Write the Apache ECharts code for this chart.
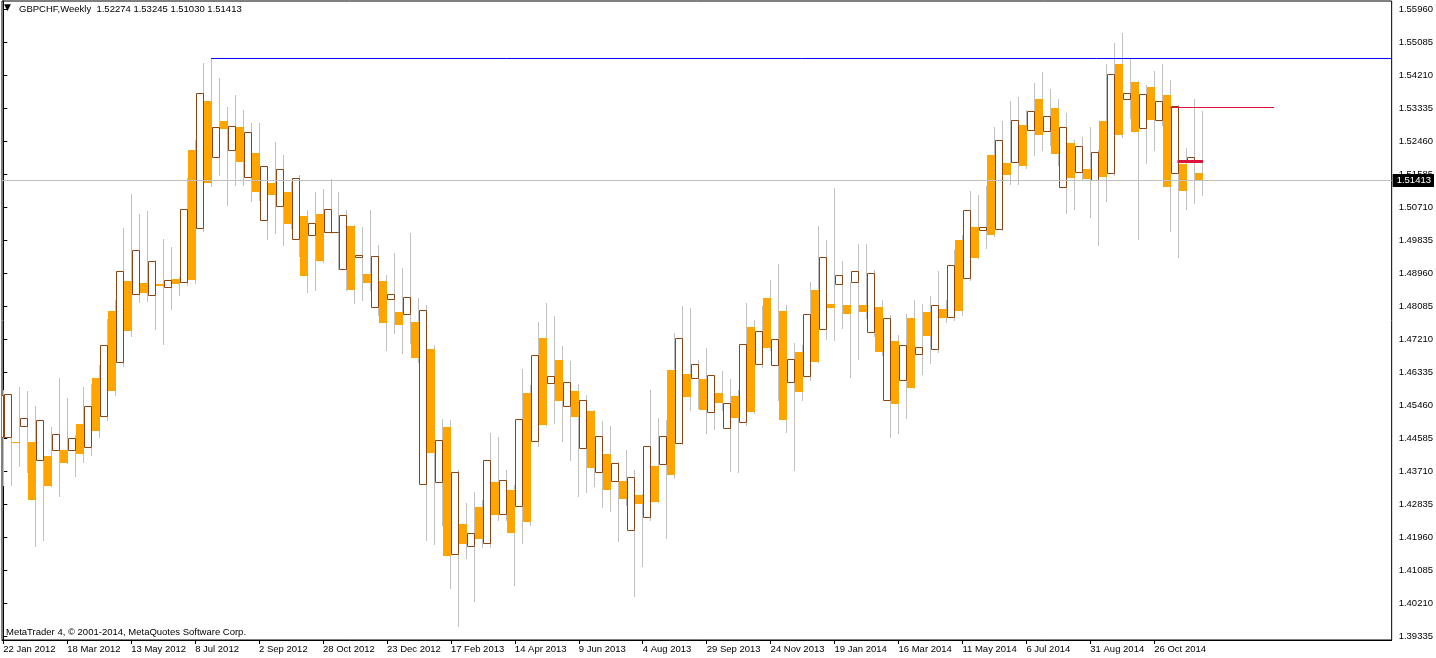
<!DOCTYPE html>
<html>
<head>
<meta charset="utf-8">
<script src="https://cdn.jsdelivr.net/npm/echarts@6/dist/echarts.min.js"></script>
<style>
html,body{margin:0;padding:0;background:#fff;}
#chart{width:1436px;height:658px;}
</style>
</head>
<body>
<div id="chart"></div>
<script>
// ---------------- data ----------------
const headerTitle = 'GBPCHF,Weekly';
const headerValues = '1.52274 1.53245 1.51030 1.51413';
const copyright = 'MetaTrader 4, \u00a9 2001-2014, MetaQuotes Software Corp.';

// one label every 8 weekly bars, starting at bar 0
const dateLabels = ['22 Jan 2012','18 Mar 2012','13 May 2012','8 Jul 2012','2 Sep 2012','28 Oct 2012',
  '23 Dec 2012','17 Feb 2013','14 Apr 2013','9 Jun 2013','4 Aug 2013','29 Sep 2013','24 Nov 2013',
  '19 Jan 2014','16 Mar 2014','11 May 2014','6 Jul 2014','31 Aug 2014','26 Oct 2014'];

const priceTicks = [1.39335,1.40210,1.41085,1.41960,1.42835,1.43710,1.44585,1.45460,1.46335,1.47210,
  1.48085,1.48960,1.49835,1.50710,1.51585,1.52460,1.53335,1.54210,1.55085,1.55960];

const opens = [1.4461,1.4460,1.4448,1.4490,1.4448,1.4399,1.4411,1.4426,1.4427,1.4426,
  1.4496,1.4434,1.4618,1.4516,1.4795,1.4659,1.4875,1.4840,1.4869,1.4837,
  1.4868,1.4858,1.4880,1.4871,1.5222,1.5015,1.5352,1.5203,1.5299,1.5221,
  1.5283,1.5150,1.5214,1.5036,1.5135,1.5073,1.5111,1.4985,1.5047,1.4996,
  1.5052,1.5004,1.5004,1.4906,1.5021,1.4938,1.4893,1.4805,1.4875,1.4826,
  1.4793,1.4786,1.4766,1.4336,1.4694,1.4341,1.4488,1.4150,1.4230,1.4171,
  1.4276,1.4179,1.4342,1.4256,1.4321,1.4277,1.4578,1.4450,1.4724,1.4604,
  1.4665,1.4543,1.4583,1.4431,1.4530,1.4368,1.4416,1.4344,1.4344,1.4215,
  1.4307,1.4248,1.4384,1.4389,1.4639,1.4444,1.4628,1.4617,1.4615,1.4527,
  1.4578,1.4484,1.4570,1.4500,1.4753,1.4654,1.4830,1.4651,1.4795,1.4606,
  1.4687,1.4622,1.4851,1.4747,1.4814,1.4866,1.4811,1.4871,1.4811,1.4739,
  1.4806,1.4558,1.4716,1.4611,1.4777,1.4680,1.4793,1.4694,1.4801,1.4780,
  1.4984,1.4882,1.5018,1.5009,1.5209,1.5012,1.5188,1.5190,1.5288,1.5274,
  1.5357,1.5272,1.5334,1.5123,1.5241,1.5164,1.5172,1.5142,1.5299,1.5160,
  1.5450,1.5357,1.5402,1.5280,1.5389,1.5301,1.5368,1.5160,1.5185,1.5190,
  1.5162];
const highs = [1.4586,1.4574,1.4594,1.4583,1.4543,1.4505,1.4488,1.4618,1.4565,1.4466,
  1.4594,1.4602,1.4652,1.4774,1.4824,1.5015,1.5105,1.5052,1.5060,1.4930,
  1.4986,1.4965,1.4885,1.5149,1.5249,1.5452,1.5465,1.5413,1.5336,1.5368,
  1.5328,1.5294,1.5294,1.5181,1.5244,1.5209,1.5137,1.5156,1.5063,1.5112,
  1.5120,1.5145,1.5110,1.5063,1.5023,1.5017,1.5063,1.4970,1.4891,1.4949,
  1.4908,1.5002,1.4830,1.4811,1.4705,1.4509,1.4506,1.4374,1.4286,1.4315,
  1.4294,1.4472,1.4461,1.4374,1.4334,1.4641,1.4599,1.4766,1.4816,1.4782,
  1.4702,1.4663,1.4602,1.4573,1.4532,1.4504,1.4490,1.4395,1.4427,1.4374,
  1.4309,1.4586,1.4512,1.4506,1.4737,1.4808,1.4803,1.4665,1.4697,1.4626,
  1.4636,1.4615,1.4586,1.4816,1.4771,1.4808,1.4877,1.4920,1.4811,1.4710,
  1.4705,1.4872,1.5021,1.4984,1.5121,1.4928,1.4871,1.4973,1.4973,1.4904,
  1.4824,1.4785,1.4732,1.4786,1.4824,1.4814,1.4835,1.4902,1.4824,1.4958,
  1.4997,1.5113,1.5103,1.5127,1.5283,1.5299,1.5352,1.5363,1.5328,1.5400,
  1.5429,1.5384,1.5357,1.5320,1.5249,1.5256,1.5283,1.5222,1.5450,1.5506,
  1.5532,1.5464,1.5405,1.5394,1.5432,1.5450,1.5408,1.5342,1.5227,1.5357,
  1.53245];
const lows = [1.4334,1.4334,1.4384,1.4369,1.4173,1.4188,1.4331,1.4306,1.4393,1.4359,
  1.4396,1.4413,1.4461,1.4506,1.4573,1.4649,1.4729,1.4820,1.4823,1.4748,
  1.4709,1.4801,1.4838,1.4864,1.4869,1.5007,1.5127,1.5156,1.5076,1.5129,
  1.5129,1.5087,1.5090,1.4987,1.5003,1.4970,1.5015,1.4942,1.4846,1.4851,
  1.4925,1.5002,1.4907,1.4851,1.4817,1.4825,1.4851,1.4785,1.4692,1.4738,
  1.4685,1.4710,1.4660,1.4189,1.4178,1.4228,1.4062,1.3961,1.4141,1.4027,
  1.4170,1.4169,1.4242,1.4241,1.4069,1.4181,1.4228,1.4437,1.4493,1.4499,
  1.4451,1.4401,1.4306,1.4316,1.4332,1.4276,1.4266,1.4186,1.4281,1.4040,
  1.4118,1.4241,1.4288,1.4194,1.4352,1.4442,1.4534,1.4537,1.4471,1.4483,
  1.4533,1.4372,1.4369,1.4493,1.4526,1.4646,1.4692,1.4559,1.4475,1.4374,
  1.4560,1.4612,1.4659,1.4721,1.4718,1.4751,1.4621,1.4669,1.4777,1.4729,
  1.4679,1.4462,1.4473,1.4512,1.4590,1.4629,1.4658,1.4687,1.4767,1.4771,
  1.4785,1.4877,1.4935,1.4963,1.4994,1.5010,1.5132,1.5132,1.5174,1.5210,
  1.5222,1.5235,1.5182,1.5054,1.5066,1.5146,1.5044,1.4969,1.5088,1.5156,
  1.5257,1.5307,1.4987,1.5188,1.5222,1.5288,1.5008,1.4938,1.5066,1.5082,
  1.51030];
const closes = [1.4573,1.4574,1.4447,1.4511,1.4295,1.4505,1.4331,1.4468,1.4393,1.4458,
  1.4417,1.4543,1.4478,1.4706,1.4584,1.4901,1.4742,1.4956,1.4843,1.4927,
  1.4862,1.4877,1.4868,1.5065,1.4878,1.5372,1.5135,1.5282,1.5279,1.5285,
  1.5191,1.5269,1.5112,1.5179,1.5104,1.5171,1.5027,1.5147,1.4889,1.5028,
  1.4929,1.5066,1.5005,1.5049,1.4852,1.4944,1.4870,1.4940,1.4764,1.4840,
  1.4759,1.4832,1.4671,1.4797,1.4420,1.4452,1.4146,1.4368,1.4178,1.4207,
  1.4191,1.4399,1.4255,1.4346,1.4207,1.4508,1.4237,1.4678,1.4494,1.4622,
  1.4557,1.4606,1.4515,1.4558,1.4380,1.4463,1.4321,1.4391,1.4298,1.4354,
  1.4284,1.4436,1.4290,1.4463,1.4361,1.4723,1.4568,1.4654,1.4534,1.4625,
  1.4552,1.4551,1.4512,1.4707,1.4528,1.4742,1.4698,1.4720,1.4507,1.4667,
  1.4581,1.4786,1.4661,1.4938,1.4804,1.4890,1.4788,1.4901,1.4793,1.4895,
  1.4687,1.4776,1.4549,1.4704,1.4592,1.4699,1.4730,1.4810,1.4777,1.4916,
  1.4796,1.5062,1.4937,1.5017,1.4998,1.5248,1.5157,1.5301,1.5181,1.5325,
  1.5263,1.5311,1.5212,1.5282,1.5149,1.5232,1.5146,1.5216,1.5151,1.5423,
  1.5263,1.5372,1.5271,1.5370,1.5302,1.5351,1.5125,1.5339,1.5114,1.5204,
  1.51413];

const bidPrice = 1.51413;
const blueLevel = {fromBar: 26, price: 1.54648};
const redLevel = {fromBar: 146, toBar: 159, price: 1.53348};
const redMark = {fromBar: 146.9, toBar: 150.1, price: 1.51916};

// ---------------- chart ----------------
const FONT = 'Tahoma, "Liberation Sans", Arial, sans-serif';
const barsPerLabel = 8;
const xMin = -0.1625, xMax = 173.7;
const yMin = 1.392289, yMax = 1.561721;

const candleData = opens.map((o, i) => [i, o, closes[i], lows[i], highs[i]]);
const labelBars = dateLabels.map((_, i) => i * barsPerLabel);

function renderCandle(params, api) {
  const k = api.value(0), o = api.value(1), c = api.value(2), l = api.value(3), h = api.value(4);
  const pO = api.coord([k, o]), pC = api.coord([k, c]);
  const pH = api.coord([k, h]), pL = api.coord([k, l]);
  const col = Math.floor(pO[0]);
  const wx = col + 0.5;
  const yO = Math.round(pO[1]), yC = Math.round(pC[1]);
  const top = Math.min(yO, yC), bot = Math.max(yO, yC);
  const children = [{
    type: 'line',
    shape: {x1: wx, y1: Math.round(pH[1]), x2: wx, y2: Math.round(pL[1]) + 1},
    style: {stroke: '#C0C0C0', lineWidth: 1}
  }];
  if (c >= o) {
    children.push({
      type: 'rect',
      shape: {x: col - 7 + 0.5, y: top + 0.5, width: 7, height: Math.max(bot - top, 0)},
      style: {fill: '#FFFFFF', stroke: '#8B4513', lineWidth: 1}
    });
  } else {
    children.push({
      type: 'rect',
      shape: {x: col - 7, y: top, width: 8, height: Math.max(bot - top, 1)},
      style: {fill: '#FFA500'}
    });
  }
  return {type: 'group', children};
}

const chart = echarts.init(document.getElementById('chart'), null, {renderer: 'canvas'});
chart.setOption({
  animation: false,
  backgroundColor: '#FFFFFF',
  grid: {left: 2, right: 43, top: 1, bottom: 18, show: true, borderColor: '#000', borderWidth: 1, backgroundColor: '#FFFFFF'},
  xAxis: {
    type: 'value', min: xMin, max: xMax,
    axisLine: {show: true, lineStyle: {color: '#000', width: 1}},
    axisTick: {show: true, customValues: labelBars, length: 4, lineStyle: {color: '#000'}},
    axisLabel: {
      customValues: labelBars,
      formatter: v => dateLabels[Math.round(v / barsPerLabel)],
      align: 'left', margin: 4, color: '#000', fontSize: 9.5, fontFamily: FONT
    },
    splitLine: {show: false}
  },
  yAxis: {
    type: 'value', position: 'right', min: yMin, max: yMax, scale: true,
    axisLine: {show: true, lineStyle: {color: '#000', width: 1}},
    axisTick: {show: true, customValues: priceTicks, length: 4, lineStyle: {color: '#000'}},
    axisLabel: {
      customValues: priceTicks,
      formatter: v => v.toFixed(5),
      margin: 7, color: '#000', fontSize: 9.5, fontFamily: FONT
    },
    splitLine: {show: false}
  },
  graphic: [
    {type: 'text', left: 4, top: 3, style: {text: '\u25BC', font: '9px "DejaVu Sans", sans-serif', fill: '#000'}},
    {type: 'text', left: 19, top: 4, style: {text: headerTitle + '  ' + headerValues, font: '9.5px ' + FONT, fill: '#000'}},
    {type: 'text', left: 6, top: 627, style: {text: copyright, font: '9.5px ' + FONT, fill: '#000'}}
  ],
  series: [
    {
      type: 'custom', name: 'GBPCHF', clip: true, z: 2,
      renderItem: renderCandle,
      encode: {x: 0, y: [1, 2, 3, 4]},
      data: candleData
    },
    {
      type: 'line', name: 'bid', symbol: 'none', silent: true, clip: true, z: 3,
      lineStyle: {color: '#C0C0C0', width: 1},
      data: [[xMin, bidPrice], [xMax, bidPrice]],
      endLabel: {
        show: true, distance: 1,
        formatter: () => bidPrice.toFixed(5),
        backgroundColor: '#000', color: '#FFF', padding: [2, 3, 1, 4],
        fontSize: 9.5, fontFamily: FONT
      }
    },
    {
      type: 'line', name: 'level', symbol: 'none', silent: true, clip: true, z: 3,
      lineStyle: {color: '#0000FF', width: 1},
      data: [[blueLevel.fromBar, blueLevel.price], [xMax, blueLevel.price]]
    },
    {
      type: 'line', name: 'red level', symbol: 'none', silent: true, z: 3,
      lineStyle: {color: '#DC143C', width: 1},
      data: [[redLevel.fromBar, redLevel.price], [redLevel.toBar, redLevel.price]]
    },
    {
      type: 'line', name: 'red mark', symbol: 'none', silent: true, z: 3,
      lineStyle: {color: '#DC143C', width: 3},
      data: [[redMark.fromBar, redMark.price], [redMark.toBar, redMark.price]]
    }
  ]
});
</script>
</body>
</html>
